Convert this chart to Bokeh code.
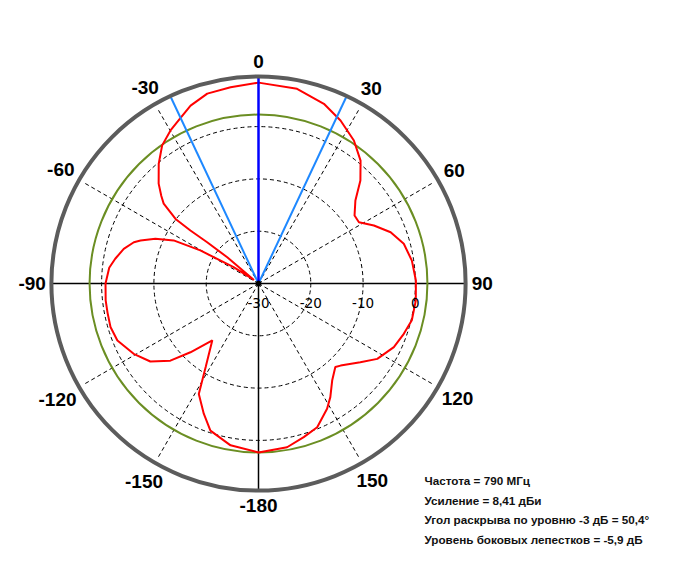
import numpy as np
from bokeh.plotting import figure
from bokeh.models import Range1d
from bokeh.core.properties import value
from bokeh.embed import file_html
from bokeh.resources import INLINE

# ---------------- data ----------------
# antenna pattern: angle (deg, clockwise from 0 at top) and level (dB)
angle_deg = [-180, -170.2, -161.9, -157.2, -151.6, -147.7, -140.9, -135.3, -131.2,
             -125.8, -119.4, -112, -106.4, -101, -96.3, -90, -84, -80.2, -75.6,
             -71.7, -70, -66.5, -63.1, -60.4, -56.6, -52, -50, -51.2, -52.1, -52.1,
             -49.9, -48, -45, -39.8, -34.9, -29.9, -25.2, -20.9, -15.1, -8.1, 0,
             11.2, 20, 26.7, 33.7, 39.7, 44.7, 49.4, 54.7, 58.6, 63.3, 68.8, 74.7,
             81.5, 88.9, 96.2, 103.5, 109.1, 115.2, 122.4, 127.7, 135, 137.4, 142.8,
             147.7, 151.3, 157.8, 163.6, 170.1, 180]
gain_db = [2.3, 1.4, -0.4, -3.0, -6.0, -11.1, -16.0, -11.5, -7.6,
           -4.5, -2.6, -0.9, -0.5, -0.6, -0.6, -0.75, -1.3, -2.2, -3.4,
           -4.9, -6.0, -8.5, -11.8, -17.2, -24.3, -28.9, -22.2, -17.4, -13.5, -9.9,
           -6.3, -5.0, -3.0, -0.2, 2.2, 3.75, 5.0, 6.4, 7.6, 7.9, 8.41,
           7.95, 6.56, 4.9, 2.87, 0.55, -2.3, -5.6, -7.5, -7.5, -5.3, -2.9, -1.2,
           -0.35, 0.1, 0.25, 0.15, -0.6, -1.4, -3.1, -5.4, -7.8, -8.3, -6.7,
           -4.3, -2.7, -0.3, 0.63, 1.78, 2.3]

angle_tick_values = [0, 30, 60, 90, 120, 150, 180, -150, -120, -90, -60, -30]
angle_tick_labels = ["0", "30", "60", "90", "120", "150", "-180", "-150", "-120", "-90", "-60", "-30"]
ring_db = [-20, -10, 0]
ring_label_db = [-30, -20, -10, 0]
ring_labels = ["-30", "-20", "-10", "0"]
spoke_angles = [30, 60, 120, 150, -30, -60, -120, -150]
main_dir = 0
half_beam = 25.2          # 50.4 / 2
side_lobe_db = 2.3        # level circle
info_lines = ["Частота = 790 МГц",
              "Усиление = 8,41 дБи",
              "Угол раскрыва по уровню -3 дБ = 50,4°",
              "Уровень боковых лепестков = -5,9 дБ"]

# ---------------- geometry ----------------
DB_MIN = -30.0
K = 5.23          # px per dB
W, H = 672, 559
CX, CY = 258, 283  # centre in frame pixels
R_OUTER_DB = 9.6
R_SPOKE_DB = 8.6
R_BLUE_DB = 9.3
LABEL_GAP_PX = 215.0   # labels' boxes sit just outside this radius


def pol(a, db):
    a = np.radians(np.asarray(a, dtype=float))
    r = np.asarray(db, dtype=float) - DB_MIN
    return r * np.sin(a), r * np.cos(a)


def px(xp, yp):
    # frame pixel -> data
    return (xp - CX) / K, (CY - yp) / K


p = figure(width=W, height=H,
           x_range=Range1d(-CX / K, (W - CX) / K),
           y_range=Range1d(-(H - CY) / K, CY / K),
           output_backend="svg", toolbar_location=None,
           x_axis_type=None, y_axis_type=None, min_border=0)
p.outline_line_color = None
p.grid.visible = False
p.background_fill_color = "white"
p.border_fill_color = "white"

# dashed rings
for d in ring_db:
    p.circle(x=[0], y=[0], radius=d - DB_MIN, fill_color=None,
             line_color="black", line_width=1, line_dash="4 3")

# dashed spokes
sx, sy = pol(spoke_angles, [R_SPOKE_DB] * len(spoke_angles))
p.segment(x0=[0] * len(spoke_angles), y0=[0] * len(spoke_angles), x1=sx, y1=sy,
          line_color="black", line_width=1, line_dash="4 3")

# solid axes
Ro = R_OUTER_DB - DB_MIN
p.segment(x0=[-Ro, 0], y0=[0, 0], x1=[Ro, 0], y1=[0, -Ro],
          line_color="black", line_width=1.5)

# side lobe level circle
p.circle(x=[0], y=[0], radius=side_lobe_db - DB_MIN, fill_color=None,
         line_color="#6b8e23", line_width=2)

# pattern
xs, ys = pol(angle_deg, gain_db)
p.line(xs, ys, line_color="red", line_width=2)

# beam lines
bx, by = pol([-half_beam, half_beam], [R_BLUE_DB, R_BLUE_DB])
p.segment(x0=[0, 0], y0=[0, 0], x1=bx, y1=by, line_color="#1e88ff", line_width=2)
mx, my = pol([main_dir], [R_OUTER_DB])
p.segment(x0=[0], y0=[0], x1=mx, y1=my, line_color="#0000ff", line_width=2.5)

# outer circle
p.circle(x=[0], y=[0], radius=Ro, fill_color=None, line_color="#5c5c5c", line_width=4)

# centre dot
p.scatter(x=[0], y=[0], size=5, color="black")

# angle labels: box placed just outside a circle
lab_r = []
for a, t in zip(angle_tick_values, angle_tick_labels):
    half_w = sum(5.2 if c == "-" else 8.7 for c in t) / 2.0
    half_h = 7.0
    ar = np.radians(a)
    rpx = LABEL_GAP_PX + half_w * abs(np.sin(ar)) + half_h * abs(np.cos(ar))
    lab_r.append(rpx / K + DB_MIN)
lx, ly = pol(angle_tick_values, lab_r)
p.text(x=lx, y=ly, text=angle_tick_labels,
       text_font=value("'Liberation Sans Narrow', 'Arial Narrow', 'Liberation Sans'"),
       text_font_size="19px", text_font_style="bold", text_color="black",
       text_align="center", text_baseline="middle")

# ring labels
rx = [d - DB_MIN for d in ring_label_db]
ry = [-19 / K] * len(ring_label_db)
p.text(x=rx, y=ry, text=ring_labels, text_font=value("DejaVu Sans"),
       text_font_size="13.5px", text_color="black",
       text_align="center", text_baseline="middle")

# info block
ix, _ = px(424, 0)
iy = [px(0, 480 + 19.6 * i)[1] for i in range(len(info_lines))]
p.text(x=[ix] * len(info_lines), y=iy, text=info_lines,
       text_font=value("Liberation Sans"), text_font_size="11.7px",
       text_font_style="bold", text_color="#111111",
       text_align="left", text_baseline="alphabetic")

open("out.html", "w").write(file_html(p, INLINE))
